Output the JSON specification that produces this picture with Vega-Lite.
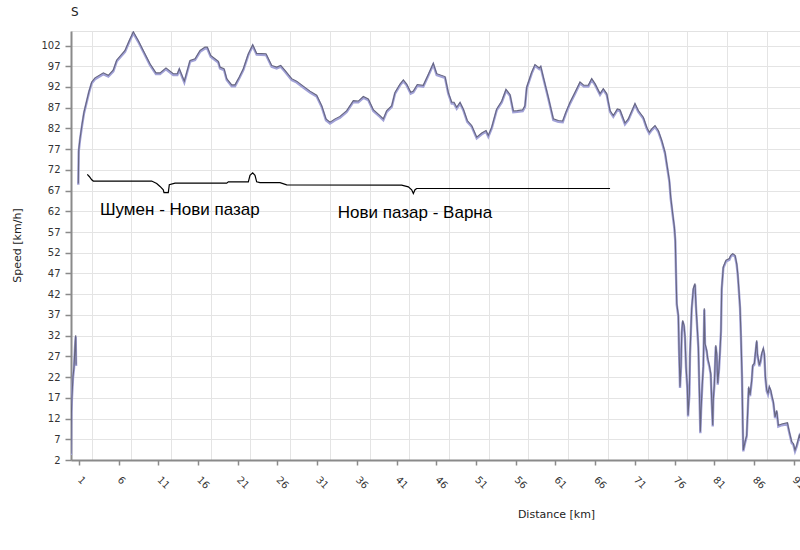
{
  "$schema": "https://vega.github.io/schema/vega-lite/v6.json",
  "width": 729,
  "height": 429,
  "autosize": "none",
  "padding": {"left": 71, "top": 31, "right": 0, "bottom": 90},
  "background": "white",
  "title": {"text": "S", "anchor": "start", "frame": "group", "font": "DejaVu Sans", "fontSize": 12, "fontWeight": "normal", "color": "#222", "baseline": "alphabetic", "offset": 3},
  "config": {
    "view": {"stroke": "#e2e2e2"},
    "axis": {"labelFont": "DejaVu Sans", "labelFontSize": 10, "labelColor": "#333", "titleFont": "DejaVu Sans", "titleFontSize": 11, "titleFontWeight": "normal", "titleColor": "#222", "gridColor": "#e4e4e4", "gridWidth": 1, "domainColor": "#8a8a8a", "domainWidth": 2, "tickColor": "#8a8a8a", "tickWidth": 1.5},
    "axisY": {"labelOverlap": false}
  },
  "datasets": {
    "speed": [
      {"km": 0, "v": 3.5, "seg": "a"}, {"km": 0.02, "v": 7.2, "seg": "a"}, {"km": 0.05, "v": 13.3, "seg": "a"}, {"km": 0.12, "v": 17.3, "seg": "a"}, {"km": 0.25, "v": 22.1, "seg": "a"}, {"km": 0.38, "v": 24.5, "seg": "a"}, {"km": 0.5, "v": 29.3, "seg": "a"}, {"km": 0.59, "v": 32.1, "seg": "a"}, {"km": 0.64, "v": 25, "seg": "a"},
      {"km": 0.92, "v": 68.7, "seg": "b"}, {"km": 0.97, "v": 76.7, "seg": "b"}, {"km": 1.13, "v": 79.5, "seg": "b"}, {"km": 1.39, "v": 83, "seg": "b"}, {"km": 1.64, "v": 86, "seg": "b"}, {"km": 1.98, "v": 88.7, "seg": "b"}, {"km": 2.27, "v": 91, "seg": "b"}, {"km": 2.61, "v": 93.2, "seg": "b"}, {"km": 3.02, "v": 94.2, "seg": "b"}, {"km": 4.07, "v": 95.4, "seg": "b"}, {"km": 4.7, "v": 94.8, "seg": "b"}, {"km": 5.33, "v": 96.1, "seg": "b"}, {"km": 5.76, "v": 98.5, "seg": "b"}, {"km": 6.8, "v": 100.8, "seg": "b"}, {"km": 7.34, "v": 103.2, "seg": "b"}, {"km": 7.85, "v": 105.3, "seg": "b"}, {"km": 8.47, "v": 103.2, "seg": "b"}, {"km": 9.1, "v": 100.8, "seg": "b"}, {"km": 9.95, "v": 97.6, "seg": "b"}, {"km": 10.7, "v": 95.4, "seg": "b"}, {"km": 11.21, "v": 95.4, "seg": "b"}, {"km": 11.96, "v": 96.6, "seg": "b"}, {"km": 12.88, "v": 95.2, "seg": "b"}, {"km": 13.39, "v": 95.2, "seg": "b"}, {"km": 13.64, "v": 96.4, "seg": "b"}, {"km": 14.27, "v": 93.4, "seg": "b"}, {"km": 14.99, "v": 98.4, "seg": "b"}, {"km": 15.62, "v": 98.8, "seg": "b"}, {"km": 16.25, "v": 100.8, "seg": "b"}, {"km": 16.87, "v": 101.6, "seg": "b"}, {"km": 17.16, "v": 101.6, "seg": "b"}, {"km": 17.59, "v": 99.6, "seg": "b"}, {"km": 18.13, "v": 98.8, "seg": "b"}, {"km": 18.55, "v": 98.2, "seg": "b"}, {"km": 18.76, "v": 96.8, "seg": "b"}, {"km": 19.27, "v": 96.4, "seg": "b"}, {"km": 19.61, "v": 94.0, "seg": "b"}, {"km": 20.24, "v": 92.5, "seg": "b"}, {"km": 20.65, "v": 92.5, "seg": "b"}, {"km": 21.19, "v": 94.4, "seg": "b"}, {"km": 21.7, "v": 96.4, "seg": "b"}, {"km": 22.33, "v": 100.0, "seg": "b"}, {"km": 22.88, "v": 102.2, "seg": "b"}, {"km": 23.38, "v": 100.1, "seg": "b"}, {"km": 24.56, "v": 100.0, "seg": "b"}, {"km": 25.27, "v": 97.2, "seg": "b"}, {"km": 25.9, "v": 96.8, "seg": "b"}, {"km": 26.41, "v": 97.2, "seg": "b"}, {"km": 26.95, "v": 96.0, "seg": "b"}, {"km": 27.79, "v": 94.0, "seg": "b"}, {"km": 28.42, "v": 93.4, "seg": "b"}, {"km": 29.25, "v": 92.2, "seg": "b"}, {"km": 30.1, "v": 91.0, "seg": "b"}, {"km": 30.94, "v": 90.0, "seg": "b"}, {"km": 31.57, "v": 87.5, "seg": "b"}, {"km": 32.11, "v": 84.3, "seg": "b"}, {"km": 32.62, "v": 83.5, "seg": "b"}, {"km": 33.25, "v": 84.3, "seg": "b"}, {"km": 33.87, "v": 84.9, "seg": "b"}, {"km": 34.72, "v": 86.3, "seg": "b"}, {"km": 35.55, "v": 88.7, "seg": "b"}, {"km": 36.18, "v": 88.6, "seg": "b"}, {"km": 36.81, "v": 89.7, "seg": "b"}, {"km": 37.44, "v": 89.1, "seg": "b"}, {"km": 38.07, "v": 86.5, "seg": "b"}, {"km": 38.91, "v": 85.1, "seg": "b"}, {"km": 39.33, "v": 84.3, "seg": "b"}, {"km": 39.76, "v": 86.3, "seg": "b"}, {"km": 40.39, "v": 87.5, "seg": "b"}, {"km": 40.8, "v": 90.7, "seg": "b"}, {"km": 41.43, "v": 92.7, "seg": "b"}, {"km": 41.85, "v": 93.7, "seg": "b"}, {"km": 42.27, "v": 92.7, "seg": "b"}, {"km": 42.78, "v": 90.7, "seg": "b"}, {"km": 43.11, "v": 91.0, "seg": "b"}, {"km": 43.61, "v": 92.6, "seg": "b"}, {"km": 44.36, "v": 92.4, "seg": "b"}, {"km": 44.99, "v": 95.0, "seg": "b"}, {"km": 45.62, "v": 97.7, "seg": "b"}, {"km": 46.05, "v": 95.2, "seg": "b"}, {"km": 47.1, "v": 94.5, "seg": "b"}, {"km": 47.51, "v": 90.7, "seg": "b"}, {"km": 47.94, "v": 88.3, "seg": "b"}, {"km": 48.23, "v": 88.3, "seg": "b"}, {"km": 48.57, "v": 87.1, "seg": "b"}, {"km": 48.99, "v": 88.3, "seg": "b"}, {"km": 49.4, "v": 86.7, "seg": "b"}, {"km": 49.9, "v": 83.9, "seg": "b"}, {"km": 50.46, "v": 82.7, "seg": "b"}, {"km": 51.09, "v": 79.9, "seg": "b"}, {"km": 51.72, "v": 80.9, "seg": "b"}, {"km": 52.26, "v": 81.5, "seg": "b"}, {"km": 52.55, "v": 80.3, "seg": "b"}, {"km": 52.98, "v": 82.3, "seg": "b"}, {"km": 53.61, "v": 86.7, "seg": "b"}, {"km": 54.24, "v": 88.6, "seg": "b"}, {"km": 54.78, "v": 91.4, "seg": "b"}, {"km": 55.28, "v": 90.2, "seg": "b"}, {"km": 55.7, "v": 86.2, "seg": "b"}, {"km": 56.2, "v": 86.3, "seg": "b"}, {"km": 56.88, "v": 86.5, "seg": "b"}, {"km": 57.17, "v": 87.5, "seg": "b"}, {"km": 57.39, "v": 92.0, "seg": "b"}, {"km": 58.02, "v": 95.6, "seg": "b"}, {"km": 58.43, "v": 97.4, "seg": "b"}, {"km": 58.97, "v": 96.6, "seg": "b"}, {"km": 59.15, "v": 97.0, "seg": "b"}, {"km": 59.48, "v": 94.4, "seg": "b"}, {"km": 60.11, "v": 89.5, "seg": "b"}, {"km": 60.74, "v": 84.3, "seg": "b"}, {"km": 61.37, "v": 83.9, "seg": "b"}, {"km": 61.92, "v": 83.8, "seg": "b"}, {"km": 62.33, "v": 86.0, "seg": "b"}, {"km": 62.84, "v": 88.3, "seg": "b"}, {"km": 63.47, "v": 90.7, "seg": "b"}, {"km": 64.1, "v": 93.2, "seg": "b"}, {"km": 64.6, "v": 92.4, "seg": "b"}, {"km": 65.14, "v": 92.4, "seg": "b"}, {"km": 65.57, "v": 94.0, "seg": "b"}, {"km": 65.99, "v": 92.8, "seg": "b"}, {"km": 66.62, "v": 90.4, "seg": "b"}, {"km": 67.03, "v": 91.6, "seg": "b"}, {"km": 67.46, "v": 90.4, "seg": "b"}, {"km": 67.88, "v": 86.3, "seg": "b"}, {"km": 68.29, "v": 85.1, "seg": "b"}, {"km": 68.8, "v": 86.7, "seg": "b"}, {"km": 69.13, "v": 86.5, "seg": "b"}, {"km": 69.76, "v": 83.3, "seg": "b"}, {"km": 70.18, "v": 84.3, "seg": "b"}, {"km": 71.02, "v": 88.0, "seg": "b"}, {"km": 71.44, "v": 86.3, "seg": "b"}, {"km": 72.07, "v": 84.7, "seg": "b"}, {"km": 72.5, "v": 82.3, "seg": "b"}, {"km": 72.82, "v": 81.1, "seg": "b"}, {"km": 73.13, "v": 81.9, "seg": "b"}, {"km": 73.54, "v": 82.7, "seg": "b"}, {"km": 73.96, "v": 81.5, "seg": "b"}, {"km": 74.39, "v": 79.1, "seg": "b"}, {"km": 74.8, "v": 76.3, "seg": "b"}, {"km": 75.09, "v": 72.7, "seg": "b"}, {"km": 75.35, "v": 69.5, "seg": "b"}, {"km": 75.52, "v": 65.4, "seg": "b"}, {"km": 75.77, "v": 61.4, "seg": "b"}, {"km": 75.98, "v": 58.2, "seg": "b"}, {"km": 76.1, "v": 55.0, "seg": "b"}, {"km": 76.19, "v": 47.0, "seg": "b"}, {"km": 76.28, "v": 39.8, "seg": "b"}, {"km": 76.48, "v": 36.9, "seg": "b"}, {"km": 76.57, "v": 28.5, "seg": "b"}, {"km": 76.69, "v": 19.7, "seg": "b"}, {"km": 76.82, "v": 24.9, "seg": "b"}, {"km": 76.91, "v": 32.9, "seg": "b"}, {"km": 77.03, "v": 35.7, "seg": "b"}, {"km": 77.2, "v": 34.5, "seg": "b"}, {"km": 77.32, "v": 31.7, "seg": "b"}, {"km": 77.45, "v": 24.5, "seg": "b"}, {"km": 77.61, "v": 19.7, "seg": "b"}, {"km": 77.7, "v": 12.8, "seg": "b"}, {"km": 77.87, "v": 18.1, "seg": "b"}, {"km": 77.95, "v": 27.7, "seg": "b"}, {"km": 78.16, "v": 38.6, "seg": "b"}, {"km": 78.37, "v": 43.4, "seg": "b"}, {"km": 78.58, "v": 44.6, "seg": "b"}, {"km": 78.7, "v": 39.3, "seg": "b"}, {"km": 78.87, "v": 33.7, "seg": "b"}, {"km": 79.0, "v": 29.3, "seg": "b"}, {"km": 79.12, "v": 19.7, "seg": "b"}, {"km": 79.25, "v": 8.8, "seg": "b"}, {"km": 79.34, "v": 14.0, "seg": "b"}, {"km": 79.5, "v": 20.5, "seg": "b"}, {"km": 79.63, "v": 24.9, "seg": "b"}, {"km": 79.75, "v": 38.6, "seg": "b"}, {"km": 79.84, "v": 30.1, "seg": "b"}, {"km": 80.05, "v": 28.5, "seg": "b"}, {"km": 80.18, "v": 26.5, "seg": "b"}, {"km": 80.38, "v": 24.9, "seg": "b"}, {"km": 80.56, "v": 22.9, "seg": "b"}, {"km": 80.68, "v": 16.5, "seg": "b"}, {"km": 80.81, "v": 10.4, "seg": "b"}, {"km": 80.88, "v": 16.5, "seg": "b"}, {"km": 81.01, "v": 20.1, "seg": "b"}, {"km": 81.19, "v": 29.7, "seg": "b"}, {"km": 81.31, "v": 27.7, "seg": "b"}, {"km": 81.44, "v": 20.5, "seg": "b"}, {"km": 81.6, "v": 24.1, "seg": "b"}, {"km": 81.73, "v": 28.5, "seg": "b"}, {"km": 81.85, "v": 33.3, "seg": "b"}, {"km": 81.94, "v": 43.4, "seg": "b"}, {"km": 82.14, "v": 48.6, "seg": "b"}, {"km": 82.48, "v": 50.2, "seg": "b"}, {"km": 82.9, "v": 50.6, "seg": "b"}, {"km": 83.08, "v": 51.4, "seg": "b"}, {"km": 83.33, "v": 51.8, "seg": "b"}, {"km": 83.62, "v": 51.4, "seg": "b"}, {"km": 83.83, "v": 49.4, "seg": "b"}, {"km": 83.96, "v": 47.0, "seg": "b"}, {"km": 84.08, "v": 43.8, "seg": "b"}, {"km": 84.25, "v": 38.9, "seg": "b"}, {"km": 84.37, "v": 31.7, "seg": "b"}, {"km": 84.5, "v": 22.1, "seg": "b"}, {"km": 84.59, "v": 10.8, "seg": "b"}, {"km": 84.66, "v": 4.4, "seg": "b"}, {"km": 84.88, "v": 6.4, "seg": "b"}, {"km": 85.09, "v": 8.0, "seg": "b"}, {"km": 85.22, "v": 14.0, "seg": "b"}, {"km": 85.34, "v": 19.7, "seg": "b"}, {"km": 85.51, "v": 17.7, "seg": "b"}, {"km": 85.72, "v": 21.3, "seg": "b"}, {"km": 85.85, "v": 24.9, "seg": "b"}, {"km": 86.05, "v": 25.3, "seg": "b"}, {"km": 86.26, "v": 29.3, "seg": "b"}, {"km": 86.35, "v": 30.9, "seg": "b"}, {"km": 86.43, "v": 27.7, "seg": "b"}, {"km": 86.68, "v": 24.9, "seg": "b"}, {"km": 86.85, "v": 26.1, "seg": "b"}, {"km": 86.98, "v": 27.7, "seg": "b"}, {"km": 87.18, "v": 28.9, "seg": "b"}, {"km": 87.31, "v": 27.7, "seg": "b"}, {"km": 87.44, "v": 22.1, "seg": "b"}, {"km": 87.61, "v": 18.9, "seg": "b"}, {"km": 87.77, "v": 18.1, "seg": "b"}, {"km": 87.94, "v": 19.7, "seg": "b"}, {"km": 88.11, "v": 18.9, "seg": "b"}, {"km": 88.28, "v": 17.3, "seg": "b"}, {"km": 88.44, "v": 16.1, "seg": "b"}, {"km": 88.66, "v": 12.4, "seg": "b"}, {"km": 88.87, "v": 14.0, "seg": "b"}, {"km": 89.07, "v": 10.4, "seg": "b"}, {"km": 89.5, "v": 10.7, "seg": "b"}, {"km": 90.21, "v": 11.0, "seg": "b"}, {"km": 90.46, "v": 8.8, "seg": "b"}, {"km": 90.76, "v": 6.4, "seg": "b"}, {"km": 90.96, "v": 6.0, "seg": "b"}, {"km": 91.17, "v": 4.4, "seg": "b"}, {"km": 91.39, "v": 5.6, "seg": "b"}, {"km": 91.72, "v": 8.0, "seg": "b"}, {"km": 91.9, "v": 7.0, "seg": "b"}
    ],
    "profile": [
      {"km": 2.05, "v": 70.9}, {"km": 2.3, "v": 70.4}, {"km": 2.61, "v": 69.6}, {"km": 2.81, "v": 69.3}, {"km": 10.16, "v": 69.3}, {"km": 10.79, "v": 68.7}, {"km": 11.21, "v": 68.0}, {"km": 11.62, "v": 67.2}, {"km": 11.71, "v": 66.5}, {"km": 12.25, "v": 66.5}, {"km": 12.38, "v": 68.4}, {"km": 13.1, "v": 68.8}, {"km": 19.61, "v": 68.8}, {"km": 19.81, "v": 69.1}, {"km": 22.33, "v": 69.1}, {"km": 22.54, "v": 70.7}, {"km": 22.88, "v": 71.3}, {"km": 23.17, "v": 70.7}, {"km": 23.38, "v": 69.1}, {"km": 23.8, "v": 68.9}, {"km": 26.32, "v": 68.9}, {"km": 27.16, "v": 68.4}, {"km": 41.64, "v": 68.3}, {"km": 42.48, "v": 67.9}, {"km": 42.9, "v": 67.2}, {"km": 43.11, "v": 66.3}, {"km": 43.32, "v": 67.2}, {"km": 43.53, "v": 67.5}, {"km": 67.88, "v": 67.5}
    ],
    "labels": [
      {"km": 3.65, "v": 62.4, "text": "Шумен - Нови пазар"},
      {"km": 33.6, "v": 61.7, "text": "Нови пазар - Варна"}
    ]
  },
  "resolve": {"axis": {"x": "independent"}},
  "encoding": {
    "y": {"field": "v", "type": "quantitative", "scale": {"domain": [2, 105.5], "nice": false, "zero": false},
      "axis": {"values": [2, 7, 12, 17, 22, 27, 32, 37, 42, 47, 52, 57, 62, 67, 72, 77, 82, 87, 92, 97, 102], "grid": true, "labelOverlap": false, "tickSize": 6, "labelPadding": 5, "title": "Speed [km/h]", "titleX": -54, "titleY": 214, "titleAlign": "center", "titleBaseline": "middle", "titleAngle": -90}}
  },
  "layer": [
    {
      "data": {"name": "speed"},
      "mark": {"type": "line", "stroke": "#a2a2d8", "strokeWidth": 2.4, "yOffset": 1.3, "clip": true},
      "encoding": {
        "x": {"field": "km", "type": "quantitative", "scale": {"domain": [0, 91.8], "nice": false, "zero": false},
          "axis": {"orient": "top", "values": [2.6, 7.6, 12.6, 17.6, 22.6, 27.6, 32.6, 37.6, 42.6, 47.6, 52.6, 57.6, 62.6, 67.6, 72.6, 77.6, 82.6, 87.6], "grid": true, "labels": false, "ticks": false, "domain": false, "title": null}},
        "detail": {"field": "seg"}
      }
    },
    {
      "data": {"name": "speed"},
      "mark": {"type": "line", "stroke": "#66667f", "strokeWidth": 1.1, "clip": true},
      "encoding": {
        "x": {"field": "km", "type": "quantitative",
          "axis": {"orient": "bottom", "values": [1, 6, 11, 16, 21, 26, 31, 36, 41, 46, 51, 56, 61, 66, 71, 76, 81, 86, 91], "grid": false, "labelAngle": 45, "labelAlign": "left", "labelBaseline": "middle", "labelOverlap": false, "labelBound": false, "tickSize": 5, "labelPadding": 13, "title": "Distance [km]", "titleX": 485, "titleY": 54, "titleAlign": "center", "titleBaseline": "middle"}},
        "detail": {"field": "seg"}
      }
    },
    {
      "data": {"name": "profile"},
      "mark": {"type": "line", "stroke": "black", "strokeWidth": 1.2},
      "encoding": {
        "x": {"field": "km", "type": "quantitative", "axis": null}
      }
    },
    {
      "data": {"name": "labels"},
      "mark": {"type": "text", "font": "Liberation Sans", "fontSize": 17, "color": "black", "align": "left", "baseline": "middle"},
      "encoding": {
        "x": {"field": "km", "type": "quantitative", "axis": null},
        "text": {"field": "text"}
      }
    }
  ]
}
